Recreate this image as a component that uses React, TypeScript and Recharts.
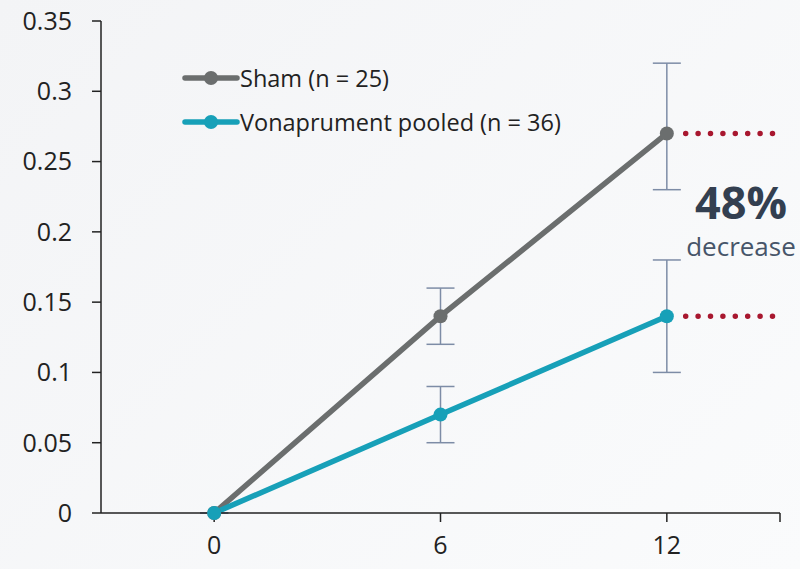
import {
  LineChart, Line, XAxis, YAxis, ErrorBar, ReferenceLine,
} from "recharts"

const months = [0, 6, 12]
const shamValues = [0, 0.14, 0.27]
const shamErrors: [number, number][] = [[0, 0], [0.02, 0.02], [0.04, 0.05]]
const vonaValues = [0, 0.07, 0.14]
const vonaErrors: [number, number][] = [[0, 0], [0.02, 0.02], [0.04, 0.04]]
const yTicks = [0, 0.05, 0.1, 0.15, 0.2, 0.25, 0.3, 0.35]
const xTicks = [0, 6, 12, 15]

const SHAM = "#6b6e6e"
const VONA = "#17a0b8"
const ERR = "#7d8ca6"
const RED = "#a8172f"
const FONT = "'Open Sans', sans-serif"

const data = months.map((m, i) => ({
  month: m,
  sham: shamValues[i],
  shamErr: shamErrors[i],
  vona: vonaValues[i],
  vonaErr: vonaErrors[i],
}))

const legendItems = [
  { label: "Sham (n = 25)", color: SHAM },
  { label: "Vonaprument pooled (n = 36)", color: VONA },
]

function LegendBox() {
  return (
    <div style={{ position: "absolute", left: 182, top: 56, fontFamily: FONT, fontSize: 23.5, color: "#222" }}>
      {legendItems.map((it) => (
        <div key={it.label} style={{ display: "flex", alignItems: "center", height: 44 }}>
          <svg width={58} height={16}>
            <line x1={3} y1={8} x2={55} y2={8} stroke={it.color} strokeWidth={5.5} strokeLinecap="round" />
            <circle cx={29} cy={8} r={7} fill={it.color} />
          </svg>
          <span>{it.label}</span>
        </div>
      ))}
    </div>
  )
}

export default function App() {
  return (
    <div style={{ position: "relative", width: 800, height: 569, background: "linear-gradient(135deg, #f3f4f6 0%, #fafbfc 100%)" }}>
      <style>{`body{margin:0}`}</style>
      <LineChart width={800} height={569} data={data} margin={{ top: 21, right: 20, bottom: 0, left: 0 }}>
        <XAxis
          dataKey="month"
          type="number"
          domain={[-3, 15]}
          ticks={xTicks}
          tickFormatter={(v) => (v === 15 ? "" : String(v))}
          stroke="#222"
          strokeWidth={1.5}
          tickSize={9}
          tick={{ fill: "#222", fontSize: 25, fontFamily: FONT }}
          tickMargin={14}
          height={56}
        />
        <YAxis
          type="number"
          domain={[0, 0.35]}
          ticks={yTicks}
          tickFormatter={(v) => String(v)}
          stroke="#222"
          strokeWidth={1.5}
          tickSize={9}
          tick={{ fill: "#222", fontSize: 25, fontFamily: FONT }}
          tickMargin={20}
          width={101}
        />
        <ReferenceLine
          segment={[{ x: 12.5, y: 0.27 }, { x: 14.95, y: 0.27 }]}
          stroke={RED}
          strokeWidth={5.5}
          strokeDasharray="0 12.4"
          strokeLinecap="round"
        />
        <ReferenceLine
          segment={[{ x: 12.5, y: 0.14 }, { x: 14.95, y: 0.14 }]}
          stroke={RED}
          strokeWidth={5.5}
          strokeDasharray="0 12.4"
          strokeLinecap="round"
        />
        <Line
          dataKey="sham"
          stroke={SHAM}
          strokeWidth={5.5}
          dot={{ r: 7, fill: SHAM, stroke: SHAM, strokeWidth: 0 }}
          isAnimationActive={false}
        >
          <ErrorBar dataKey="shamErr" stroke={ERR} strokeWidth={1.5} width={14} direction="y" />
        </Line>
        <Line
          dataKey="vona"
          stroke={VONA}
          strokeWidth={5.5}
          dot={{ r: 7, fill: VONA, stroke: VONA, strokeWidth: 0 }}
          isAnimationActive={false}
        >
          <ErrorBar dataKey="vonaErr" stroke={ERR} strokeWidth={1.5} width={14} direction="y" />
        </Line>
      </LineChart>
      <LegendBox />
      <div style={{ position: "absolute", left: 674, top: 176, width: 134, textAlign: "center", fontFamily: FONT }}>
        <div style={{ fontSize: 45, fontWeight: 700, color: "#333f50", lineHeight: "52px" }}>48%</div>
        <div style={{ fontSize: 26, color: "#475569", lineHeight: "32px", marginTop: 2 }}>decrease</div>
      </div>
    </div>
  )
}
